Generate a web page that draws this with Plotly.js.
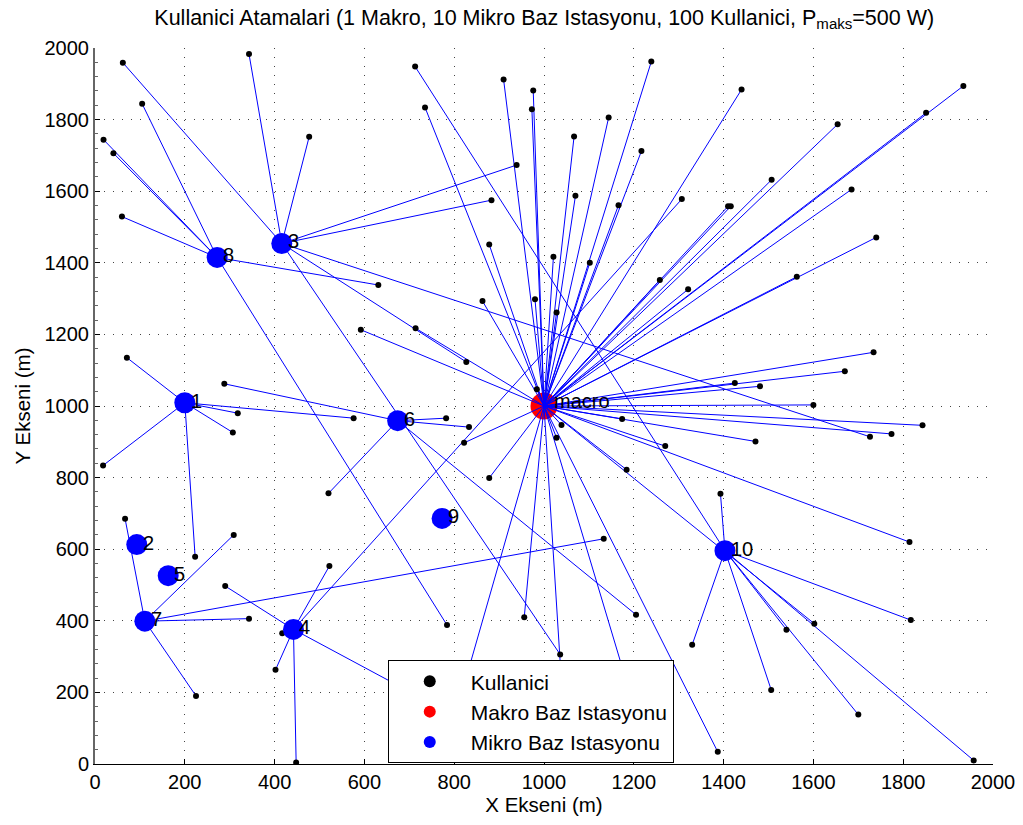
<!DOCTYPE html>
<html>
<head>
<meta charset="utf-8">
<script src="https://cdn.plot.ly/plotly-3.0.1.min.js"></script>
<style>html,body{margin:0;padding:0;background:#fff;}#chart{width:1023px;height:825px;}</style>
</head>
<body>
<div id="chart"></div>
<script>
// Macro base station
const macroX = [1000];
const macroY = [1000];
// Micro base stations 1..10
const microX = [200, 93, 416, 442, 163, 674, 111, 272, 773, 1403];
const microY = [1009, 613, 1454, 376, 526, 959, 399, 1415, 686, 596];
const microLabels = ['1', '2', '3', '4', '5', '6', '7', '8', '9', '10'];
// Users and their assigned station (0 = macro, k = micro k)
const userX = [
  71, 318, 576, 307, 18, 223,
  62, 343, 477, 939, 883, 1726, 827, 1036,
  290, 522, 417, 402, 448, 1307, 763,
  288, 520, 782, 833, 1205,
  67, 309, 343, 225, 1133,
  105, 19, 41, 60, 631, 784,
  713, 1393, 1330, 1506, 1540, 1602, 1700, 1957, 1817,
  735, 910, 976, 973, 1067, 1144, 1239, 1217, 1070, 1166, 878, 1021, 1102, 1258, 1321,
  1440, 1654, 1934, 1851, 1507, 1410, 1416, 1685, 1740, 1563,
  592, 863, 980, 1028, 714, 984, 822, 878, 1039, 1028, 1174, 1270, 1184,
  1734, 1670, 1425, 1481, 1600, 1843, 1774, 1471, 1814, 1387, 956, 1047, 787, 1210
];
const userY = [
  1135, 980, 966, 926, 834, 579,
  1959, 1983, 1752, 1673, 1575, 914, 1123, 306,
  497, 553, 365, 263, 4, 1578, 160,
  1062, 756, 966, 941, 417,
  685, 640, 406, 190, 629,
  1844, 1744, 1706, 1529, 1338, 388,
  1948, 755, 333, 207, 375, 392, 138, 10, 402,
  1834, 1912, 1881, 1829, 1753, 1806, 1962, 1712, 1587, 1561, 1451, 1417, 1400, 1352, 1326,
  1884, 1787, 1894, 1819, 1632, 1558, 1558, 1605, 1471, 1361,
  1213, 1293, 1298, 1261, 1217, 1047, 897, 799, 947, 911, 964, 888, 822,
  1150, 1097, 1064, 1055, 1003, 946, 922, 901, 620, 34, 410, 67, 67, 120
];
const userBS = [
  1, 1, 1, 1, 1, 1,
  3, 3, 3, 3, 3, 3, 3, 3,
  4, 4, 4, 4, 4, 4, 4,
  6, 6, 6, 6, 6,
  7, 7, 7, 7, 7,
  8, 8, 8, 8, 8, 8,
  10, 10, 10, 10, 10, 0, 10, 10, 10,
  0, 0, 0, 0, 0, 0, 0, 0, 0, 0, 0, 0, 0, 0, 0,
  0, 0, 0, 0, 0, 0, 0, 0, 0, 0,
  0, 0, 0, 0, 0, 0, 0, 0, 0, 0, 0, 0, 0,
  0, 0, 0, 0, 0, 0, 0, 0, 0, 0, 0, 0, 0, 0
];

// Build connection line segments
const lx = [], ly = [];
for (let i = 0; i < userX.length; i++) {
  const b = userBS[i];
  const sx = b === 0 ? macroX[0] : microX[b - 1];
  const sy = b === 0 ? macroY[0] : microY[b - 1];
  lx.push(userX[i], sx, null);
  ly.push(userY[i], sy, null);
}

const FONT = 'Liberation Sans, Arial, sans-serif';

const traces = [
  {x: macroX, y: macroY, mode: 'markers', type: 'scatter', name: 'Makro Baz Istasyonu',
   marker: {color: '#ff0000', size: 27}, legendrank: 2, hoverinfo: 'skip'},
  {x: lx, y: ly, mode: 'lines', type: 'scatter', showlegend: false,
   line: {color: '#0000ff', width: 1}, hoverinfo: 'skip'},
  {x: userX, y: userY, mode: 'markers', type: 'scatter', name: 'Kullanici',
   marker: {color: '#000000', size: 6}, legendrank: 1, hoverinfo: 'skip'},
  {x: microX, y: microY, mode: 'markers', type: 'scatter', name: 'Mikro Baz Istasyonu',
   marker: {color: '#0000ff', size: 21}, legendrank: 3, hoverinfo: 'skip'}
];

const annotations = microLabels.map((t, i) => ({
  x: microX[i], y: microY[i], text: t, showarrow: false,
  xanchor: 'left', yanchor: 'middle', xshift: 4, yshift: 2,
  font: {family: FONT, size: 20, color: '#000'}
}));
annotations.push({x: macroX[0], y: macroY[0], text: 'macro', showarrow: false,
  xanchor: 'left', yanchor: 'middle', xshift: 8, yshift: 5,
  font: {family: FONT, size: 20, color: '#000'}});

const axisCommon = {
  range: [0, 2000], dtick: 200, tick0: 0, ticks: 'inside', ticklen: 5,
  tickcolor: '#000', showgrid: true, gridcolor: '#444', gridwidth: 1,
  griddash: '1px,8px', zeroline: false, showline: true, linecolor: '#000',
  linewidth: 1, tickfont: {family: FONT, size: 20, color: '#000'},
  fixedrange: true
};

const layout = {
  width: 1023, height: 825,
  margin: {l: 95, r: 30, t: 48, b: 61},
  paper_bgcolor: '#fff', plot_bgcolor: '#fff',
  showlegend: true,
  title: {text: 'Kullanici Atamalari (1 Makro, 10 Mikro Baz Istasyonu, 100 Kullanici, P<sub>maks</sub>=500 W)',
          x: 0.532, xanchor: 'center', y: 0.988, yanchor: 'top',
          font: {family: FONT, size: 21.5, color: '#000'}},
  xaxis: Object.assign({}, axisCommon, {
    title: {text: 'X Ekseni (m)', font: {family: FONT, size: 20.5, color: '#000'}, standoff: 5}
  }),
  yaxis: Object.assign({}, axisCommon, {
    linecolor: '#666', linewidth: 2,
    minor: {ticks: 'inside', ticklen: 3, dtick: 40, tickcolor: '#666', showgrid: false},
    title: {text: 'Y Ekseni (m)', font: {family: FONT, size: 20.5, color: '#000'}, standoff: 8}
  }),
  legend: {x: 0.326, y: 0.145, xanchor: 'left', yanchor: 'top',
           bgcolor: '#fff', bordercolor: '#000', borderwidth: 1,
           font: {family: FONT, size: 21, color: '#000'},
           itemsizing: 'constant', itemwidth: 72, traceorder: 'normal'},
  annotations: annotations
};

Plotly.newPlot('chart', traces, layout, {staticPlot: true, displayModeBar: false});
</script>
</body>
</html>
